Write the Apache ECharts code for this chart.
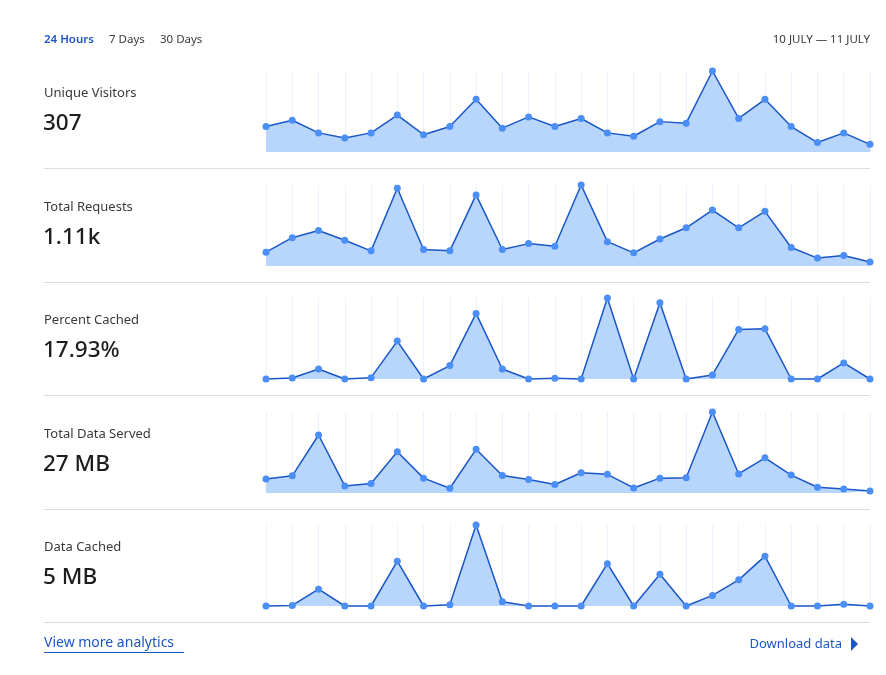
<!DOCTYPE html>
<html>
<head>
<meta charset="utf-8">
<script src="https://cdn.jsdelivr.net/npm/echarts@6/dist/echarts.min.js"></script>
<style>
html,body{margin:0;padding:0;background:#fff;}
#chart{width:886px;height:675px;}
</style>
</head>
<body>
<div id="chart"></div>
<script>
// ---- data ----
var hours = ['00:00','01:00','02:00','03:00','04:00','05:00','06:00','07:00','08:00','09:00','10:00','11:00',
             '12:00','13:00','14:00','15:00','16:00','17:00','18:00','19:00','20:00','21:00','22:00','23:00'];
var metricNames = ['Unique Visitors','Total Requests','Percent Cached','Total Data Served','Data Cached'];
var metricTotals = ['307','1.11k','17.93%','27 MB','5 MB'];
var uniqueVisitors = [11.3,14.1,8.5,6.2,8.5,16.4,7.7,11.3,23.4,10.6,15.6,11.3,14.9,8.5,7.0,13.5,12.8,36,14.9,23.4,11.3,4.2,8.5,3.4];
var totalRequests = [21,43,54,39,23,118,25,23,108,25,34,30,123,37,20,41,58,85,58,83,28,12,16,6];
var percentCached = [0,0.8,7.5,0,1,28.3,0,10,49,7.5,0,0.5,0,60.5,0,57,0,3,37,37.5,0,0,12,0];
var totalDataServed = [0.77,0.95,3.20,0.39,0.52,2.28,0.82,0.26,2.41,0.97,0.75,0.47,1.12,1.03,0.28,0.82,0.84,4.47,1.05,1.94,0.99,0.32,0.22,0.11];
var dataCached = [0,0.01,0.27,0,0,0.72,0,0.02,1.30,0.07,0,0,0,0.68,0,0.51,0,0.17,0.42,0.80,0,0,0.03,0];
var rangeTabs = ['24 Hours','7 Days','30 Days'];
var dateRange = '10 JULY \u2014 11 JULY';

var seriesData = [uniqueVisitors,totalRequests,percentCached,totalDataServed,dataCached];

// ---- layout ----
var FONT = '"Noto Sans", "Open Sans", sans-serif';
var gridTops = [71,185,298,412,525];
var gridH = 81;
var LINE = '#1a56c6', DOT = '#4a8ef6', AREA = '#b8d5fb', GRIDC = '#eaf2fd', BLUE = '#1b57c4';

var grids=[], xAxes=[], yAxes=[], series=[], graphics=[];
seriesData.forEach(function(d,i){
  grids.push({left:266,right:16,top:gridTops[i],height:gridH});
  xAxes.push({type:'category',gridIndex:i,data:hours,boundaryGap:false,
    axisLine:{show:false},axisTick:{show:false},axisLabel:{show:false,interval:0},
    splitLine:{show:true,interval:0,lineStyle:{color:GRIDC,width:1}}});
  yAxes.push({type:'value',gridIndex:i,min:0,max:'dataMax',show:false,splitLine:{show:false}});
  series.push({type:'line',xAxisIndex:i,yAxisIndex:i,data:d,clip:false,
    symbol:'circle',symbolSize:7,showAllSymbol:true,
    itemStyle:{color:DOT,borderWidth:0},
    lineStyle:{color:LINE,width:1.5},
    areaStyle:{color:AREA,opacity:1},
    emphasis:{disabled:true},animation:false});
  var t = gridTops[i];
  graphics.push({type:'text',left:44,top:t+16,style:{text:metricNames[i],font:'13px '+FONT,fill:'#3a3a3a'}});
  graphics.push({type:'text',left:43,top:t+41,style:{text:metricTotals[i],font:'500 22.5px '+FONT,fill:'#1d1d1d'}});
  graphics.push({type:'rect',shape:{x:44,y:t+97,width:826,height:1},style:{fill:'#dcdcdc'}});
});

// header
var tabX=[44,109,160];
rangeTabs.forEach(function(s,i){
  graphics.push({type:'text',left:tabX[i],top:34,style:{text:s,font:(i===0?'600 ':'')+'11.5px '+FONT,fill:i===0?BLUE:'#3a3a3a'}});
});
graphics.push({type:'text',right:16,top:34,style:{text:dateRange,font:'11.5px '+FONT,fill:'#3a3a3a'}});
// footer
graphics.push({type:'text',left:44,top:636,style:{text:'View more analytics',font:'14px '+FONT,fill:BLUE}});
graphics.push({type:'rect',shape:{x:44,y:652,width:140,height:1},style:{fill:BLUE}});
graphics.push({type:'text',right:44,top:638,style:{text:'Download data',font:'13px '+FONT,fill:BLUE}});
graphics.push({type:'polygon',shape:{points:[[851,637],[858,644],[851,651]]},style:{fill:BLUE}});

var chart = echarts.init(document.getElementById('chart'),null,{renderer:'canvas'});
chart.setOption({animation:false,grid:grids,xAxis:xAxes,yAxis:yAxes,series:series,graphic:graphics,tooltip:{show:false}});
</script>
</body>
</html>
